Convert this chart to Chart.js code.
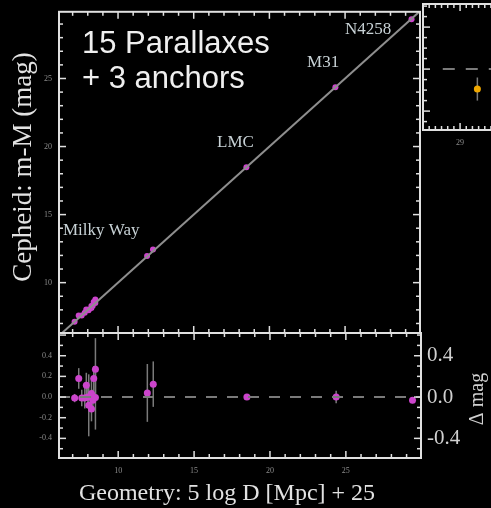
<!DOCTYPE html>
<html>
<head>
<meta charset="utf-8">
<script src="https://cdn.jsdelivr.net/npm/chart.js@4.4.1/dist/chart.umd.min.js"></script>
<style>
html, body { margin:0; padding:0; background:#000; width:491px; height:508px; overflow:hidden; position:relative; }
.layer { position:absolute; left:0; top:0; }
</style>
</head>
<body>
<canvas id="mainChart" class="layer" width="491" height="508"></canvas>
<canvas id="residChart" class="layer" width="491" height="508"></canvas>
<canvas id="insetChart" class="layer" width="600" height="160"></canvas>
<script>
// ================= DATA =================

// 15 Milky Way parallax Cepheids: geometric distance modulus, Cepheid m-M, residual and error
const mwGeo   = [7.13, 7.40, 7.60, 7.80, 7.90, 8.00, 8.06, 8.24, 8.24, 8.33, 8.39, 8.50, 8.50, 11.92, 12.31];
const mwCeph  = [7.12, 7.58, 7.59, 7.79, 8.02, 8.00, 7.98, 8.28, 8.13, 8.30, 8.57, 8.77, 8.50, 11.96, 12.44];
const mwResid = [-0.01, 0.18, -0.01, -0.01, 0.115, 0.0, -0.08, 0.035, -0.115, -0.03, 0.18, 0.27, -0.005, 0.04, 0.125];
const mwErr   = [0.04, 0.10, 0.08, 0.10, 0.12, 0.10, 0.30, 0.15, 0.12, 0.10, 0.12, 0.30, 0.31, 0.28, 0.22];

// 3 anchors
const anchorNames = ['LMC', 'M31', 'N4258'];
const anchorGeo   = [18.48, 24.36, 29.39];
const anchorCeph  = [18.48, 24.36, 29.36];
const anchorResid = [0.0, 0.0, -0.03];
const anchorErr   = [0.02, 0.06, 0.03];

// one-to-one line
const fitX = [6.1, 29.95];
const fitY = [6.1, 29.95];

// neighbouring panel (cut at the right edge)
const insetX   = [29.14];
const insetY   = [-0.19];
const insetErr = [0.11];
const insetZeroX = [28.86, 30.1];

// text labels (data coordinates of their left/middle point)
const labelText = ['Milky Way', 'LMC', 'M31', 'N4258'];
const labelX    = [6.36, 16.54, 22.49, 25.0];
const labelY    = [13.8, 20.26, 26.2, 28.6];

// ================= HELPERS =================

const PINK = '#cc44cc';
const FRAME = '#e0e0e0';
const TICKLBL = '#8c8c8c';

Chart.defaults.font.family = 'Liberation Serif';

function pts(xs, ys){
    return xs.map((x, i) => ({x: x, y: ys[i]}));
}

function fmt1(v){
    if(Math.abs(v) > 0.45) return null;
    if(Math.abs(v) < 1e-9) return '0.0';
    return v.toFixed(1);
}

function drawText(ctx, text, x, y, font, color, align, rot){
    ctx.save();
    ctx.translate(x, y);
    if(rot) ctx.rotate(rot);
    ctx.font = font;
    ctx.fillStyle = color;
    ctx.textAlign = align || 'left';
    ctx.textBaseline = 'middle';
    ctx.fillText(text, 0, 0);
    ctx.restore();
}

// frame + inward ticks
function framePlugin(spec){
    return {
        id: 'frame',
        afterDatasetsDraw(chart){
            const ctx = chart.ctx;
            const a = chart.chartArea;
            ctx.save();
            ctx.strokeStyle = FRAME;
            ctx.lineWidth = 1.5;
            spec.forEach(t => {
                const sc = chart.scales[t.axis];
                const n = Math.round((t.to - t.from) / t.step);
                for(let i = 0; i <= n; i++){
                    const v = t.from + i * t.step;
                    const q = v / t.major;
                    const len = Math.abs(q - Math.round(q)) < 1e-6 ? 7 : 4;
                    const p = sc.getPixelForValue(v);
                    ctx.beginPath();
                    if(t.side === 'top'){ ctx.moveTo(p, a.top); ctx.lineTo(p, a.top + len); }
                    if(t.side === 'bottom'){ ctx.moveTo(p, a.bottom); ctx.lineTo(p, a.bottom - len); }
                    if(t.side === 'left'){ ctx.moveTo(a.left, p); ctx.lineTo(a.left + len, p); }
                    if(t.side === 'right'){ ctx.moveTo(a.right, p); ctx.lineTo(a.right - len, p); }
                    ctx.stroke();
                }
            });
            ctx.lineWidth = 2;
            ctx.strokeRect(a.left, a.top, a.right - a.left, a.bottom - a.top);
            ctx.restore();
        }
    };
}

function errorBarPlugin(sets){
    return {
        id: 'errorBars',
        beforeDatasetsDraw(chart){
            const ctx = chart.ctx;
            const xs = chart.scales.x, ys = chart.scales.y;
            ctx.save();
            ctx.strokeStyle = '#7a7a7a';
            ctx.lineWidth = 1.5;
            sets.forEach(s => {
                s.x.forEach((xv, i) => {
                    const px = xs.getPixelForValue(xv);
                    ctx.beginPath();
                    ctx.moveTo(px, ys.getPixelForValue(s.y[i] - s.err[i]));
                    ctx.lineTo(px, ys.getPixelForValue(s.y[i] + s.err[i]));
                    ctx.stroke();
                });
            });
            ctx.restore();
        }
    };
}

function fixedWidth(w){ return s => { s.width = w; }; }
function fixedHeight(h){ return s => { s.height = h; }; }

// ================= MAIN PANEL =================

new Chart(document.getElementById('mainChart'), {
    type: 'scatter',
    data: {
        datasets: [{
            data: pts(fitX, fitY),
            showLine: true,
            borderColor: '#8e8e8e',
            borderWidth: 2,
            pointRadius: 0
        }, {
            data: pts(mwGeo, mwCeph).concat(pts(anchorGeo, anchorCeph)),
            backgroundColor: PINK,
            borderWidth: 0,
            pointRadius: 3
        }]
    },
    options: {
        responsive: false,
        animation: false,
        layout: { padding: { top: 7, right: 71, bottom: 175, left: 0 } },
        plugins: { legend: { display: false }, tooltip: { enabled: false } },
        scales: {
            x: { type: 'linear', min: 6.1, max: 29.95, display: false },
            y: {
                min: 6.3, max: 29.9,
                afterFit: fixedWidth(59),
                grid: { display: false, drawTicks: false },
                border: { display: false },
                ticks: { stepSize: 5, includeBounds: false, padding: 7, color: TICKLBL, font: { size: 8 } }
            }
        }
    },
    plugins: [
        framePlugin([
            { axis: 'x', side: 'top', from: 7, to: 29, step: 1, major: 5 },
            { axis: 'x', side: 'bottom', from: 7, to: 29, step: 1, major: 5 },
            { axis: 'y', side: 'left', from: 7, to: 29, step: 1, major: 5 },
            { axis: 'y', side: 'right', from: 7, to: 29, step: 1, major: 5 }
        ]),
        {
            id: 'mainText',
            afterDraw(chart){
                const ctx = chart.ctx;
                const xs = chart.scales.x, ys = chart.scales.y;
                drawText(ctx, '15 Parallaxes', 82, 44, '31px "Liberation Sans"', '#efefef');
                drawText(ctx, '+ 3 anchors', 82, 79, '31px "Liberation Sans"', '#efefef');
                labelText.forEach((t, i) => {
                    drawText(ctx, t, xs.getPixelForValue(labelX[i]), ys.getPixelForValue(labelY[i]),
                        '17px "Liberation Serif"', '#c8d2d6');
                });
                drawText(ctx, 'Cepheid: m-M (mag)', 24, 167, '27px "Liberation Serif"', '#e2e2e2', 'center', -Math.PI / 2);
            }
        }
    ]
});

// ================= RESIDUAL PANEL =================

new Chart(document.getElementById('residChart'), {
    type: 'scatter',
    data: {
        datasets: [{
            data: pts(fitX, [0, 0]),
            showLine: true,
            borderColor: '#7a7a7a',
            borderWidth: 2,
            borderDash: [11, 10],
            pointRadius: 0
        }, {
            data: pts(mwGeo, mwResid).concat(pts(anchorGeo, anchorResid)),
            backgroundColor: PINK,
            borderWidth: 0,
            pointRadius: 3.5
        }]
    },
    options: {
        responsive: false,
        animation: false,
        layout: { padding: { top: 333, right: 0, bottom: 0, left: 0 } },
        plugins: { legend: { display: false }, tooltip: { enabled: false } },
        scales: {
            x: {
                type: 'linear', min: 6.1, max: 29.95,
                afterFit: fixedHeight(50),
                grid: { display: false, drawTicks: false },
                border: { display: false },
                ticks: { stepSize: 5, includeBounds: false, padding: 8, maxRotation: 0, color: TICKLBL, font: { size: 8 } }
            },
            y: {
                min: -0.59, max: 0.62, position: 'left',
                afterFit: fixedWidth(59),
                grid: { display: false, drawTicks: false },
                border: { display: false },
                ticks: { stepSize: 0.2, includeBounds: false, padding: 7, callback: fmt1, color: TICKLBL, font: { size: 8 } }
            },
            y2: {
                min: -0.59, max: 0.62, position: 'right',
                afterFit: fixedWidth(70),
                grid: { display: false, drawTicks: false },
                border: { display: false },
                ticks: { stepSize: 0.4, includeBounds: false, padding: 6, callback: fmt1, color: '#d0d0d0', font: { size: 21 } }
            }
        }
    },
    plugins: [
        errorBarPlugin([
            { x: mwGeo, y: mwResid, err: mwErr },
            { x: anchorGeo, y: anchorResid, err: anchorErr }
        ]),
        framePlugin([
            { axis: 'x', side: 'top', from: 7, to: 29, step: 1, major: 5 },
            { axis: 'x', side: 'bottom', from: 7, to: 29, step: 1, major: 5 },
            { axis: 'y', side: 'left', from: -0.5, to: 0.6, step: 0.1, major: 0.2 },
            { axis: 'y', side: 'right', from: -0.5, to: 0.6, step: 0.1, major: 0.4 }
        ]),
        {
            id: 'residText',
            afterDraw(chart){
                const ctx = chart.ctx;
                drawText(ctx, 'Geometry: 5 log D [Mpc] + 25', 227, 494, '24px "Liberation Serif"', '#e2e2e2', 'center');
                drawText(ctx, '\u0394 mag', 478, 399, '20px "Liberation Serif"', '#d0d0d0', 'center', -Math.PI / 2);
            }
        }
    ]
});

// ================= NEIGHBOUR PANEL (cropped) =================

new Chart(document.getElementById('insetChart'), {
    type: 'scatter',
    data: {
        datasets: [{
            data: pts(insetZeroX, [0, 0]),
            showLine: true,
            borderColor: '#7a7a7a',
            borderWidth: 2,
            borderDash: [12, 11],
            pointRadius: 0
        }, {
            data: pts(insetX, insetY),
            backgroundColor: '#f0a800',
            borderWidth: 0,
            pointRadius: 3.5
        }]
    },
    options: {
        responsive: false,
        animation: false,
        layout: { padding: { top: 4, right: 0, bottom: 0, left: 423 } },
        plugins: { legend: { display: false }, tooltip: { enabled: false } },
        scales: {
            x: {
                type: 'linear', min: 28.7, max: 30.1,
                afterFit: fixedHeight(30),
                grid: { display: false, drawTicks: false },
                border: { display: false },
                ticks: { stepSize: 1, includeBounds: false, padding: 8, maxRotation: 0,
                         callback: v => (v === 29 ? '29' : null), color: TICKLBL, font: { size: 8 } }
            },
            y: { min: -0.58, max: 0.62, display: false }
        }
    },
    plugins: [
        errorBarPlugin([{ x: insetX, y: insetY, err: insetErr }]),
        framePlugin([
            { axis: 'x', side: 'top', from: 28.75, to: 29.5, step: 0.05, major: 1 },
            { axis: 'x', side: 'bottom', from: 28.75, to: 29.5, step: 0.05, major: 1 },
            { axis: 'y', side: 'left', from: -0.5, to: 0.6, step: 0.1, major: 0.4 }
        ])
    ]
});
</script>
</body>
</html>
